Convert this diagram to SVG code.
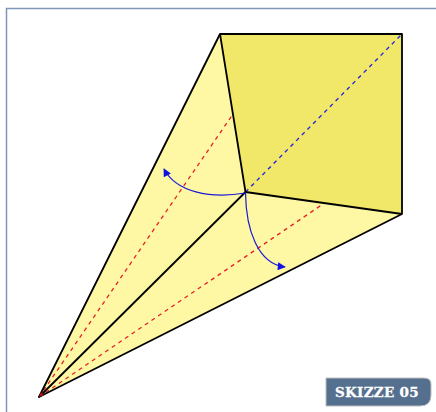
<svg xmlns="http://www.w3.org/2000/svg" width="436" height="412" viewBox="0 0 436 412">
<defs>
<marker id="ah" viewBox="0 0 10 10" refX="9" refY="5" markerWidth="11" markerHeight="8" markerUnits="userSpaceOnUse" orient="auto"><path d="M0 0L10 5L0 10Z" fill="#1010e0"/></marker>
</defs>
<style>
.e{stroke:#000;stroke-width:1.8;fill:none;stroke-linejoin:round}
.r{stroke:#e8202a;stroke-width:1.300;stroke-dasharray:4 4;fill:none}
.b{stroke:#2020e0;stroke-width:1.300;stroke-dasharray:4 4;fill:none}
.c{stroke:#1a1ad8;stroke-width:1.200;fill:none;marker-end:url(#ah)}
</style>
<rect width="436" height="412" fill="#fff"/>
<path d="M6.500 412V8.500H436" fill="none" stroke="#8096b8" stroke-width="1.500"/>
<g id="kite">
<path d="M39 397L220 34L245.500 192L402 214Z" fill="#fef8a4"/>
<path d="M220 34H402V214L245.500 192Z" fill="#f1e768"/>
<path class="r" d="M39 397L233 114"/>
<path class="r" d="M39 397L323 204"/>
<path class="b" d="M245.500 192L402 34"/>
<path class="e" d="M39 397L220 34H402V214Z"/>
<path class="e" d="M220 34L245.500 192L402 214"/>
<path class="e" d="M39 397L245.500 192"/>
<path d="M39 397l5 -2l-3 -3Z" fill="#b01010"/>
</g>
<g id="connectors">
<path class="c" d="M245.500 193C210 199 176 192 164 169"/>
<path class="c" d="M245.500 193C246 230 258 264 285 267"/>
</g>
<g id="label">
<path d="M326 406V378H424Q431 378 431 384V395Q431 406 420 406Z" fill="#55708f" stroke="#bdbdbd" stroke-width="1"/>
<text x="377" y="397" text-anchor="middle" font-family="'DejaVu Serif',serif" font-weight="700" font-size="13.500" letter-spacing="0.300" stroke="#fff" stroke-width="0.300" fill="#fff">SKIZZE 05</text>
</g>
</svg>
